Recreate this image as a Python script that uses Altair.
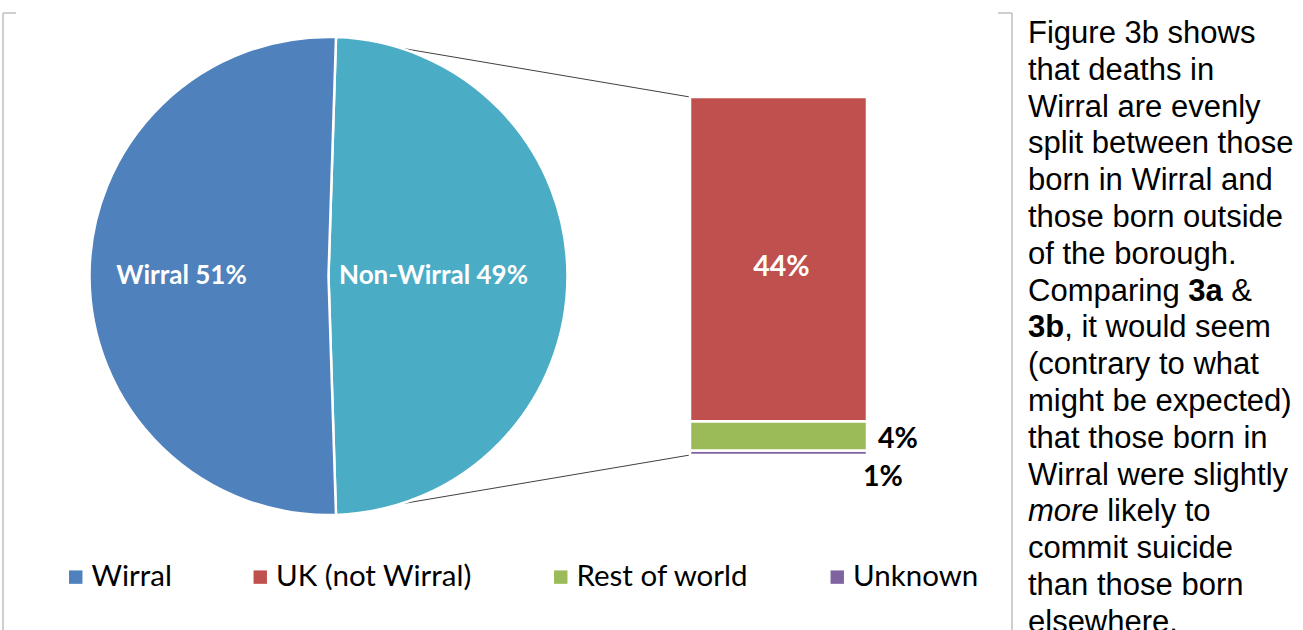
import math
import altair as alt
import pandas as pd

# ---- data ----
pie_cats = ["Non-Wirral", "Wirral"]
pie_vals = [49, 51]
pie_order = [0, 1]

bar_cats = ["Unknown", "Rest of world", "UK (not Wirral)"]
bar_vals = [0.6, 4.0, 44.3]
bar_order = [0, 1, 2]

legend_cats = ["Wirral", "UK (not Wirral)", "Rest of world", "Unknown"]
color_domain = ["Wirral", "Non-Wirral", "UK (not Wirral)", "Rest of world", "Unknown"]
color_range = ["#4F81BD", "#4BACC6", "#C0504D", "#9BBB59", "#8064A2"]

para_lines = [
    "Figure 3b shows",
    "that deaths in",
    "Wirral are evenly",
    "split between those",
    "born in Wirral and",
    "those born outside",
    "of the borough.",
    None,
    None,
    "(contrary to what",
    "might be expected)",
    "that those born in",
    "Wirral were slightly",
    None,
    "commit suicide",
    "than those born",
    "elsewhere.",
]
# rich lines: words joined by a single space between segments
rich = {
    7: [("Comparing", "normal", "normal"), ("3a", "bold", "normal"), ("&", "normal", "normal")],
    8: [("3b", "bold", "normal"), (", it would seem", "normal", "normal")],
    13: [("more", "normal", "italic"), ("likely to", "normal", "normal")],
}
rich_space = {7: [True, True], 8: [False], 13: [True]}

# ---- layout ----
W, H = 1303, 630
CX, CY, R = 328.5, 276, 239
start = math.radians(90 - pie_vals[0] * 3.6 / 2)
BAR_X0, BAR_X1, BAR_TOP, BAR_BOT = 690, 867, 97, 455
PARA_X, PARA_Y0, PARA_LH, PARA_FS = 1028, 43, 36.8, 31

AW = {' ': .278, 'C': .722, 'o': .556, 'm': .833, 'p': .556, 'a': .556, 'r': .333,
      'i': .222, 'n': .556, 'g': .556, '3': .556, 'b': .556, 'e': .556}
AWB = {'3': .556, 'a': .556, 'b': .611}
def tw(s, bold=False):
    tab = AWB if bold else AW
    return sum(tab.get(c, AW.get(c, .556)) for c in s) * PARA_FS

pie_df = pd.DataFrame({"cat": pie_cats, "value": pie_vals, "order": pie_order})
bar_df = pd.DataFrame({"cat": bar_cats, "value": bar_vals, "order": bar_order})
bar_total = sum(bar_vals)

segs = []
for i, t in enumerate(para_lines):
    if i in rich:
        off = 0
        for k, (text, wgt, sty) in enumerate(rich[i]):
            segs.append({"text": text, "line": i, "off": off, "weight": wgt, "style": sty})
            off += tw(text, wgt == "bold")
            if k < len(rich_space[i]) and rich_space[i][k]:
                off += tw(" ")
    else:
        segs.append({"text": t, "line": i, "off": 0, "weight": "normal", "style": "normal"})
para_df = pd.DataFrame(segs)

color_scale = alt.Scale(domain=color_domain, range=color_range)
legend = alt.Legend(
    values=legend_cats, orient="none", legendX=61, legendY=562, direction="horizontal",
    title=None, symbolType="square", symbolSize=180, symbolStrokeWidth=0,
    labelFont="Lato", labelFontSize=29.5, labelColor="#000000", labelOffset=1,
    columnPadding=73.5, padding=0, labelLimit=400,
)
theta_scale = alt.Scale(domain=[0, sum(pie_vals)], range=[start, start + 2 * math.pi])
y_scale = alt.Scale(domain=[0, bar_total], range=[BAR_BOT, BAR_TOP])

p_top = (CX + R * math.sin(start), CY - R * math.cos(start))
end = start + math.radians(pie_vals[0] * 3.6)
p_bot = (CX + R * math.sin(end), CY - R * math.cos(end))
conn_df = pd.DataFrame({"k": ["top", "bot"]})
conn_top = alt.Chart(conn_df.iloc[:1]).mark_rule(color="#404040", strokeWidth=1).encode(
    x=alt.value(p_top[0]), y=alt.value(p_top[1]), x2=alt.value(BAR_X0), y2=alt.value(BAR_TOP))
conn_bot = alt.Chart(conn_df.iloc[1:]).mark_rule(color="#404040", strokeWidth=1).encode(
    x=alt.value(p_bot[0]), y=alt.value(p_bot[1]), x2=alt.value(BAR_X0), y2=alt.value(BAR_BOT))

pie = alt.Chart(pie_df).mark_arc(outerRadius=R, stroke="white", strokeWidth=2.5).encode(
    theta=alt.Theta("value:Q", stack=True, scale=theta_scale),
    order=alt.Order("order:Q"),
    color=alt.Color("cat:N", scale=color_scale, legend=legend),
    x=alt.value(CX), y=alt.value(CY),
)
# labels at the middle of each slice (cumulative value minus half)
pie_text = alt.Chart(pie_df).transform_window(
    cum="sum(value)", sort=[alt.SortField("order")], frame=[None, 0]
).transform_calculate(
    mid="datum.cum - datum.value / 2",
    label="datum.cat + ' ' + format(datum.value / 100, '.0%')",
    lr="datum.cat == 'Wirral' ? 147 : 105",
).mark_text(font="Lato", fontSize=26, fontWeight="bold", color="white",
            align="center", baseline="middle").encode(
    theta=alt.Theta("mid:Q", stack=None, scale=theta_scale),
    radius=alt.Radius("lr:Q", scale=None),
    text="label:N",
    x=alt.value(CX), y=alt.value(CY),
)

bar_base = alt.Chart(bar_df).transform_stack(
    stack="value", groupby=[], as_=["y0", "y1"], sort=[alt.SortField("order")]
).transform_calculate(
    mid="(datum.y0 + datum.y1) / 2",
    label="format(datum.value / 100, '.0%')",
)
bar = bar_base.mark_rect(stroke="white", strokeWidth=2.5).encode(
    x=alt.value(BAR_X0), x2=alt.value(BAR_X1),
    y=alt.Y("y1:Q", scale=y_scale, axis=None), y2="y0:Q",
    color=alt.Color("cat:N", scale=color_scale, legend=legend),
)
LBL_FS = 28.5
bar_text_in = bar_base.transform_filter(alt.datum.cat == "UK (not Wirral)").mark_text(
    font="Lato", fontSize=LBL_FS, fontWeight="bold", color="white", align="center",
    baseline="middle", dy=8).encode(
    x=alt.value((BAR_X0 + BAR_X1) / 2 + 3), y=alt.Y("mid:Q", scale=y_scale, axis=None), text="label:N")
bar_text_rest = bar_base.transform_filter(alt.datum.cat == "Rest of world").mark_text(
    font="Lato", fontSize=LBL_FS, fontWeight="bold", color="black", align="left",
    baseline="middle", dy=3).encode(
    x=alt.value(BAR_X1 + 11), y=alt.Y("mid:Q", scale=y_scale, axis=None), text="label:N")
bar_text_unk = bar_base.transform_filter(alt.datum.cat == "Unknown").mark_text(
    font="Lato", fontSize=LBL_FS, fontWeight="bold", color="black", align="left",
    baseline="middle", dy=24).encode(
    x=alt.value(BAR_X1 - 4), y=alt.Y("mid:Q", scale=y_scale, axis=None), text="label:N")

frame_df = pd.DataFrame({"k": [0]})
fr = dict(color="#BFBFBF", strokeWidth=1.5)
frame = [
    alt.Chart(frame_df).mark_rule(**fr).encode(x=alt.value(3), x2=alt.value(3), y=alt.value(13), y2=alt.value(H)),
    alt.Chart(frame_df).mark_rule(**fr).encode(x=alt.value(3), x2=alt.value(16), y=alt.value(13), y2=alt.value(13)),
    alt.Chart(frame_df).mark_rule(**fr).encode(x=alt.value(1012), x2=alt.value(1012), y=alt.value(13), y2=alt.value(H)),
    alt.Chart(frame_df).mark_rule(**fr).encode(x=alt.value(998), x2=alt.value(1012), y=alt.value(13), y2=alt.value(13)),
]

def para_layer(weight, style):
    return alt.Chart(para_df).transform_filter(
        (alt.datum.weight == weight) & (alt.datum.style == style)
    ).transform_calculate(
        px=f"{PARA_X} + datum.off", py=f"{PARA_Y0} + datum.line * {PARA_LH}"
    ).mark_text(font="Liberation Sans", fontSize=PARA_FS, color="black", align="left",
                baseline="alphabetic", fontWeight=weight, fontStyle=style).encode(
        x=alt.X("px:Q", scale=None), y=alt.Y("py:Q", scale=None), text="text:N")

paras = [para_layer("normal", "normal"), para_layer("bold", "normal"), para_layer("normal", "italic")]

chart = alt.layer(
    *frame, conn_top, conn_bot, pie, pie_text, bar, bar_text_in, bar_text_rest, bar_text_unk, *paras
).properties(
    width=W, height=H, padding=0, autosize=alt.AutoSizeParams(type="none"),
    background="white",
).configure_view(stroke=None).resolve_scale(y="independent", x="independent")

chart.save("out.html", embed_options={"renderer": "svg", "actions": False})
